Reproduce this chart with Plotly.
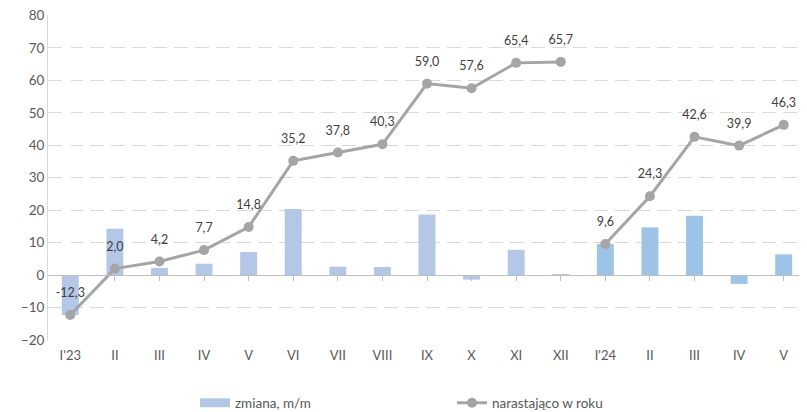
import plotly.graph_objects as go

months = ["I'23", "II", "III", "IV", "V", "VI", "VII", "VIII", "IX", "X", "XI", "XII",
          "I'24", "II", "III", "IV", "V"]
zmiana_mm = [-12.3, 14.3, 2.2, 3.5, 7.1, 20.4, 2.6, 2.5, 18.7, -1.4, 7.8, 0.3,
             9.6, 14.7, 18.3, -2.7, 6.4]
narastajaco = [-12.3, 2.0, 4.2, 7.7, 14.8, 35.2, 37.8, 40.3, 59.0, 57.6, 65.4, 65.7,
               9.6, 24.3, 42.6, 39.9, 46.3]
year = [2023] * 12 + [2024] * 5

x = list(range(len(months)))
bar_colors = ["#B4C7E7" if y == 2023 else "#9DC3E6" for y in year]

# line breaks between years
line_x = x[:12] + [None] + x[12:]
line_y = narastajaco[:12] + [None] + narastajaco[12:]

FONT = "Lato, Calibri, Arial, sans-serif"
W, H = 799, 404  # page body adds an 8px margin

fig = go.Figure()
fig.add_trace(go.Bar(
    x=x, y=zmiana_mm, name="zmiana, m/m", showlegend=False,
    marker=dict(color=bar_colors, line=dict(width=0)),
    width=0.38,
))
# legend swatch for bars (wide rectangle like the original)
fig.add_trace(go.Scatter(
    x=[None], y=[None], name="zmiana, m/m", mode="lines",
    line=dict(color="#B4C7E7", width=9),
))
fig.add_trace(go.Scatter(
    x=line_x, y=line_y, name="narastająco w roku",
    mode="lines+markers",
    line=dict(color="#A5A5A5", width=3),
    marker=dict(color="#A5A5A5", size=10, symbol="circle"),
    connectgaps=False,
))
fig.add_trace(go.Scatter(
    x=x, y=narastajaco, mode="markers+text", showlegend=False,
    text=[f"{v:.1f}".replace(".", ",") for v in narastajaco],
    textposition="top center",
    marker=dict(size=22, opacity=0),
    textfont=dict(family=FONT, size=12.5, color="#404040"),
    hoverinfo="skip", cliponaxis=False,
))

fig.update_layout(
    width=W, height=H,
    paper_bgcolor="white", plot_bgcolor="white",
    font=dict(family=FONT, size=13, color="#595959"),
    margin=dict(l=40, r=1, t=7, b=72, autoexpand=False),
    bargap=0.6,
    showlegend=True,
    legend=dict(orientation="h", xref="container", x=187 / W, xanchor="left",
                yref="container", y=9 / H, yanchor="middle",
                font=dict(family=FONT, size=13.5, color="#595959"),
                entrywidth=212, entrywidthmode="pixels", tracegroupgap=0),
    xaxis=dict(
        tickvals=x, ticktext=months, range=[-0.5, len(months) - 0.5],
        showgrid=False, zeroline=False, showline=False, ticks="",
        tickfont=dict(size=13, color="#595959"), automargin=False,
        ticklabelstandoff=6,
    ),
    xaxis2=dict(
        overlaying="x", matches="x", anchor="free", position=0.2,
        tickvals=x, showticklabels=False, tickson="boundaries",
        ticks="outside", ticklen=5, tickcolor="#BFBFBF",
        showline=True, linecolor="#BFBFBF", linewidth=1, showgrid=False,
        automargin=False,
    ),
    yaxis=dict(
        range=[-20, 80.15], dtick=10, tick0=-20,
        showgrid=True, gridcolor="#D9D9D9", griddash="14px,7px", gridwidth=1,
        zeroline=False, showline=True, linecolor="#D9D9D9",
        ticks="", tickfont=dict(size=13.5, color="#595959"), automargin=False,
        ticklabeloverflow="allow",
    ),
)

# helper trace for the category axis drawn at zero
fig.add_trace(go.Scatter(x=[x[0]], y=[0], xaxis="x2", mode="markers",
                         marker=dict(opacity=0), showlegend=False, hoverinfo="skip"))

fig.write_html("out.html")
